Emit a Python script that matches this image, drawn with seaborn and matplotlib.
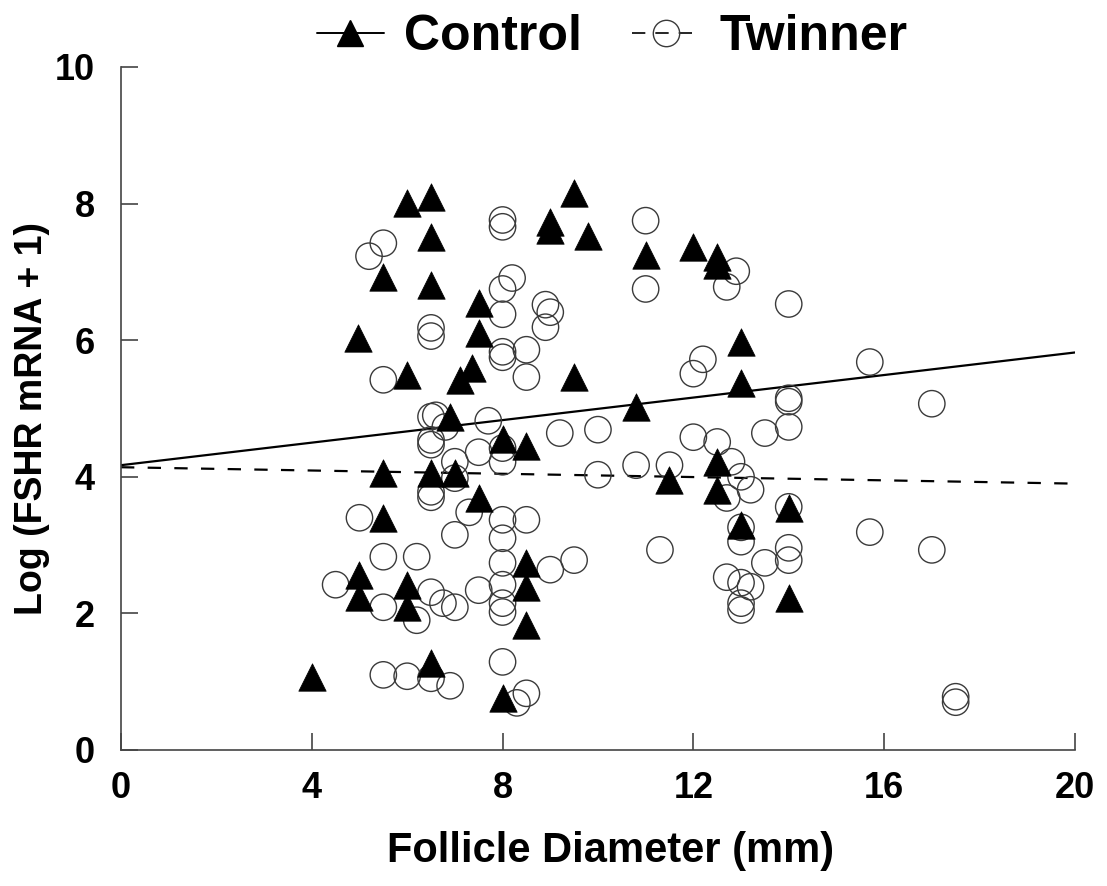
import numpy as np
import pandas as pd
import matplotlib
matplotlib.use("Agg")
import matplotlib.pyplot as plt
from matplotlib.lines import Line2D
import seaborn as sns

# --- data ---
control_x = [4.0, 4.97, 5.0, 5.0, 5.5, 5.5, 5.5, 6.0, 6.0, 6.0, 6.0, 6.5, 6.5, 6.5, 6.5, 6.5,
             7.0, 7.1, 6.9, 7.35, 7.5, 7.5, 7.5, 8.0, 8.5, 8.5, 8.5, 8.5, 8.0, 9.0, 9.0, 9.5,
             9.5, 9.8, 10.8, 11.0, 12.0, 12.5, 12.5, 13.0, 13.0, 11.5, 12.5, 12.5, 13.0, 14.0, 14.0]
control_y = [1.07, 6.03, 2.56, 2.24, 3.40, 4.06, 6.93, 8.01, 5.49, 2.42, 2.09, 8.10, 7.51, 6.81, 4.06, 1.27,
             4.06, 5.42, 4.88, 5.59, 6.54, 6.11, 3.69, 4.55, 4.45, 2.74, 2.39, 1.83, 0.76, 7.73, 7.61, 8.16,
             5.46, 7.53, 5.02, 7.25, 7.36, 7.22, 7.10, 5.97, 5.37, 3.95, 4.22, 3.81, 3.29, 3.54, 2.23]

twinner_x = [5.5, 5.2, 8.0, 8.0, 8.2, 8.0, 8.0, 8.9, 9.0, 8.9, 6.5, 6.5, 8.0, 8.0, 8.5, 8.5,
             5.5, 6.5, 6.6, 6.8, 7.7, 9.2, 6.5, 6.5, 7.0, 7.5, 8.0, 8.0, 6.5, 6.5, 7.0, 5.0,
             7.3, 7.0, 8.0, 8.5, 8.0, 5.5, 6.2, 8.0, 9.0, 9.5, 4.5, 6.5, 5.5, 6.2, 6.75, 7.0,
             7.5, 8.0, 8.0, 8.0, 8.0, 5.5, 6.0, 6.5, 6.9, 8.5, 8.3,
             11.0, 11.0, 12.9, 12.7, 14.0, 12.2, 12.0, 14.0, 14.0, 14.0, 10.0, 12.0, 12.5, 13.5,
             10.0, 10.8, 11.5, 12.8, 13.0, 13.2, 12.7, 14.0, 13.0, 13.0, 11.3, 14.0, 14.0, 13.5,
             12.7, 13.0, 13.2, 13.0, 13.0, 15.7, 17.0, 15.7, 17.0, 17.5, 17.5]
twinner_y = [7.42, 7.23, 7.76, 7.66, 6.91, 6.75, 6.38, 6.52, 6.41, 6.19, 6.18, 6.06, 5.83, 5.75, 5.86, 5.46,
             5.42, 4.88, 4.90, 4.73, 4.82, 4.64, 4.54, 4.47, 4.22, 4.36, 4.42, 4.22, 3.78, 3.70, 3.98, 3.40,
             3.48, 3.15, 3.37, 3.37, 3.10, 2.83, 2.83, 2.74, 2.64, 2.78, 2.42, 2.31, 2.09, 1.90, 2.15, 2.09,
             2.34, 2.42, 2.15, 2.02, 1.29, 1.10, 1.08, 1.05, 0.94, 0.83, 0.69,
             7.75, 6.75, 7.01, 6.78, 6.53, 5.72, 5.51, 5.15, 5.10, 4.73, 4.69, 4.58, 4.51, 4.64,
             4.03, 4.17, 4.17, 4.22, 4.00, 3.81, 3.69, 3.56, 3.26, 3.05, 2.93, 2.96, 2.78, 2.74,
             2.53, 2.45, 2.39, 2.15, 2.05, 5.68, 5.07, 3.19, 2.93, 0.78, 0.70]

# regression lines (intercept, slope)
control_fit = [4.17, 0.0825]
twinner_fit = [4.14, -0.012]

x_ticks = [0, 4, 8, 12, 16, 20]
y_ticks = [0, 2, 4, 6, 8, 10]

control_df = pd.DataFrame({"diameter": control_x, "fshr": control_y})
twinner_df = pd.DataFrame({"diameter": twinner_x, "fshr": twinner_y})

sns.set_style("white")
plt.rcParams["font.family"] = ["Liberation Sans", "DejaVu Sans"]
plt.rcParams["font.weight"] = "bold"
plt.rcParams["text.color"] = "black"
plt.rcParams["axes.labelcolor"] = "black"
plt.rcParams["xtick.direction"] = "in"
plt.rcParams["ytick.direction"] = "in"
plt.rcParams["xtick.bottom"] = True
plt.rcParams["ytick.left"] = True
plt.rcParams["xtick.major.pad"] = 15
plt.rcParams["ytick.major.pad"] = 19

fig = plt.figure(figsize=(11.07, 8.86), dpi=100)
ax = fig.add_axes([0.1093, 0.1535, 0.8617, 0.7709])

spine_col = "#444444"

# fitted lines
line_x = np.array([0, 20])
ax.plot(line_x, control_fit[0] + control_fit[1] * line_x, color="black", lw=1.6, zorder=1)
ax.plot(line_x, twinner_fit[0] + twinner_fit[1] * line_x, color="black", lw=1.6,
        dashes=(6, 6), zorder=1)

# points
sns.scatterplot(data=twinner_df, x="diameter", y="fshr", marker="o", s=360,
                facecolors="none", edgecolor="#3a3a3a", linewidth=1.0, ax=ax, zorder=2)
sns.scatterplot(data=control_df, x="diameter", y="fshr", marker="^", s=390,
                color="black", edgecolor="black", linewidth=0.5, ax=ax, zorder=3)

ax.set_xlim(0, 20)
ax.set_ylim(0, 10)
ax.set_xticks(x_ticks)
ax.set_yticks(y_ticks)
ax.tick_params(which="both", direction="in", length=12, width=1.2,
               color=spine_col, labelsize=26, labelcolor="black")
for lab in ax.get_xticklabels() + ax.get_yticklabels():
    lab.set_fontweight("bold")

sns.despine(ax=ax)
for side in ["left", "bottom"]:
    ax.spines[side].set_color(spine_col)
    ax.spines[side].set_linewidth(1.2)

ax.set_xlabel("Follicle Diameter (mm)", fontsize=30, fontweight="bold")
ax.set_ylabel("Log (FSHR mRNA + 1)", fontsize=27, fontweight="bold")
ax.xaxis.set_label_coords(0.513, -0.118)
ax.yaxis.set_label_coords(-0.074, 0.485)

handles = [
    Line2D([0], [0], color="black", lw=1.4, marker="^", markersize=19,
           markerfacecolor="black", markeredgecolor="black"),
    Line2D([0], [0], color="black", lw=1.2, dashes=(8, 6), marker="o", markersize=19,
           markerfacecolor="none", markeredgecolor="#3a3a3a", markeredgewidth=1.0),
]
fig.legend(handles, ["Control", "Twinner"], loc="center", bbox_to_anchor=(0.553, 0.958),
           ncol=2, frameon=False, prop={"size": 36, "weight": "bold"},
           handlelength=1.35, handletextpad=0.4, columnspacing=1.0)

fig.savefig("out.png", dpi=100, facecolor="white")
